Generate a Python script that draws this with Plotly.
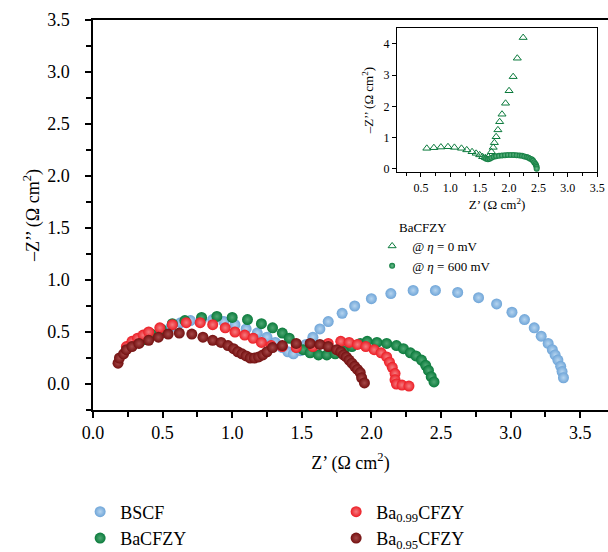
import plotly.graph_objects as go

# ---------------- data ----------------
bscf_x = [0.50, 0.56, 0.63, 0.70, 0.78, 0.86, 0.94, 1.02, 1.10, 1.18, 1.25, 1.31, 1.36, 1.40, 1.44,
          1.49, 1.53, 1.58, 1.63, 1.69, 1.79, 1.88, 2.00, 2.14, 2.30, 2.46, 2.62, 2.77, 2.90, 3.01,
          3.10, 3.17, 3.22, 3.27, 3.30, 3.32, 3.34, 3.36, 3.37, 3.38]
bscf_y = [0.50, 0.55, 0.59, 0.61, 0.62, 0.62, 0.60, 0.57, 0.53, 0.49, 0.45, 0.40, 0.35, 0.31, 0.29,
          0.32, 0.38, 0.45, 0.53, 0.60, 0.68, 0.75, 0.82, 0.87, 0.90, 0.90, 0.88, 0.83, 0.77, 0.69,
          0.62, 0.54, 0.46, 0.39, 0.33, 0.28, 0.23, 0.17, 0.12, 0.06]

bacfzy_x = [0.35, 0.42, 0.49, 0.57, 0.66, 0.78, 0.89, 1.00, 1.11, 1.21, 1.29, 1.36, 1.41, 1.46, 1.51,
            1.56, 1.62, 1.68, 1.74, 1.80, 1.86, 1.92, 1.97, 2.04, 2.11, 2.18, 2.23, 2.28, 2.32, 2.36,
            2.39, 2.41, 2.43, 2.45]
bacfzy_y = [0.42, 0.48, 0.53, 0.58, 0.61, 0.64, 0.65, 0.64, 0.62, 0.58, 0.54, 0.49, 0.44, 0.38, 0.33,
            0.30, 0.28, 0.28, 0.29, 0.32, 0.36, 0.39, 0.41, 0.40, 0.39, 0.37, 0.34, 0.30, 0.27, 0.23,
            0.18, 0.13, 0.07, 0.02]

ba099_x = [0.24, 0.28, 0.32, 0.36, 0.40, 0.48, 0.57, 0.67, 0.77, 0.86, 0.95, 1.02, 1.09, 1.15, 1.21,
           1.28, 1.36, 1.46, 1.58, 1.69, 1.78, 1.84, 1.90, 1.96, 2.02, 2.07, 2.11, 2.13, 2.15, 2.17,
           2.17, 2.18, 2.22, 2.27]
ba099_y = [0.36, 0.41, 0.44, 0.47, 0.50, 0.54, 0.57, 0.59, 0.59, 0.57, 0.54, 0.50, 0.47, 0.44, 0.40,
           0.37, 0.36, 0.35, 0.36, 0.39, 0.41, 0.40, 0.38, 0.36, 0.33, 0.30, 0.26, 0.21, 0.16, 0.10,
           0.04, 0.00, -0.01, -0.02]

ba095_x = [0.18, 0.19, 0.22, 0.24, 0.28, 0.33, 0.40, 0.47, 0.54, 0.62, 0.71, 0.79, 0.86, 0.92, 0.97,
           1.01, 1.04, 1.07, 1.10, 1.13, 1.16, 1.19, 1.22, 1.25, 1.29, 1.36, 1.46, 1.56, 1.63, 1.69,
           1.75, 1.78, 1.80, 1.82, 1.84, 1.86, 1.88, 1.90, 1.92, 1.93, 1.95]
ba095_y = [0.20, 0.25, 0.29, 0.33, 0.36, 0.39, 0.42, 0.45, 0.48, 0.49, 0.48, 0.45, 0.42, 0.40, 0.37,
           0.34, 0.31, 0.29, 0.27, 0.25, 0.25, 0.26, 0.28, 0.31, 0.35, 0.37, 0.39, 0.39, 0.38, 0.36,
           0.33, 0.31, 0.28, 0.26, 0.23, 0.20, 0.17, 0.14, 0.11, 0.06, 0.01]

# inset: BaCFZY at two overpotentials
eta0_x = [0.60, 0.72, 0.84, 0.96, 1.07, 1.19, 1.28, 1.37, 1.44, 1.50, 1.55, 1.60, 1.65, 1.70, 1.73,
          1.75, 1.78, 1.81, 1.84, 1.88, 1.94, 2.00, 2.07, 2.14, 2.24]
eta0_y = [0.66, 0.68, 0.70, 0.71, 0.69, 0.66, 0.61, 0.55, 0.50, 0.45, 0.39, 0.36, 0.39, 0.55, 0.69,
          0.84, 1.03, 1.25, 1.51, 1.75, 2.10, 2.50, 2.95, 3.54, 4.20]
eta600_x = [1.58, 1.61, 1.64, 1.67, 1.70, 1.74, 1.78, 1.83, 1.88, 1.93, 1.98, 2.03, 2.08, 2.13, 2.18,
            2.22, 2.26, 2.30, 2.33, 2.36, 2.39, 2.41, 2.43, 2.45, 2.46, 2.47, 2.47]
eta600_y = [0.36, 0.33, 0.31, 0.33, 0.36, 0.39, 0.41, 0.42, 0.43, 0.44, 0.45, 0.45, 0.45, 0.44, 0.43,
            0.42, 0.40, 0.38, 0.36, 0.33, 0.30, 0.26, 0.21, 0.16, 0.11, 0.06, 0.01]

main_ticks = [0.0, 0.5, 1.0, 1.5, 2.0, 2.5, 3.0, 3.5]
inset_xticks = [0.5, 1.0, 1.5, 2.0, 2.5, 3.0, 3.5]
inset_yticks = [0, 1, 2, 3, 4]

FONT = "Liberation Serif"

fig = go.Figure()

def sphere(name, xs, ys, color, tint, rank):
    fig.add_trace(go.Scatter(
        x=xs, y=ys, mode="markers", name=name, legendrank=rank, legend="legend",
        marker=dict(size=11, color=color, line=dict(width=0),
                    gradient=dict(type="radial", color=tint)),
    ))

sphere("BSCF", bscf_x, bscf_y, "#6FA5D8", "#B5D4EF", 1)
sphere("BaCFZY", bacfzy_x, bacfzy_y, "#0A7A3B", "#4FA874", 3)
sphere("Ba<sub>0.99</sub>CFZY", ba099_x, ba099_y, "#EC1C24", "#F57C80", 2)
sphere("Ba<sub>0.95</sub>CFZY", ba095_x, ba095_y, "#731010", "#A64848", 4)

fig.add_trace(go.Scatter(
    x=eta0_x, y=eta0_y, mode="markers", name="@ <i>η</i> = 0 mV",
    xaxis="x2", yaxis="y2", legend="legend2",
    marker=dict(symbol="triangle-up-open", size=7, color="#0B7A3C", line=dict(width=1)),
))
fig.add_trace(go.Scatter(
    x=eta600_x, y=eta600_y, mode="markers", name="@ <i>η</i> = 600 mV",
    xaxis="x2", yaxis="y2", legend="legend2",
    marker=dict(symbol="circle", size=6, color="#0B7A3C", line=dict(width=0),
                gradient=dict(type="radial", color="#6FBE90")),
))

axis_common = dict(showgrid=False, zeroline=False, showline=True, linecolor="black",
                   ticks="outside", tickcolor="black")

fig.update_layout(
    width=608, height=552,
    margin=dict(l=93, r=0, t=20, b=142, autoexpand=False),
    paper_bgcolor="white", plot_bgcolor="white",
    font=dict(family=FONT, color="black", size=18),
    xaxis=dict(**axis_common, range=[0, 3.7], tickvals=main_ticks, tickformat=".1f",
               linewidth=1.5, mirror=True, ticklen=6, tickwidth=1.5,
               minor=dict(dtick=0.25, ticks="outside", ticklen=5, tickcolor="black"),
               tickfont=dict(size=18),
               title=dict(text="Z’ (Ω cm<sup>2</sup>)", font=dict(size=18), standoff=14)),
    yaxis=dict(**axis_common, range=[-0.25, 3.5], tickvals=main_ticks, tickformat=".1f",
               linewidth=1.5, ticklen=6, tickwidth=1.5, ticklabelstandoff=12,
               minor=dict(dtick=0.25, ticks="outside", ticklen=5, tickcolor="black"),
               tickfont=dict(size=18),
               title=dict(text="–Z’’ (Ω cm<sup>2</sup>)", font=dict(size=18), standoff=3)),
    xaxis2=dict(**axis_common, domain=[0.590, 0.979], anchor="y2", range=[0.09, 3.5],
                tickvals=inset_xticks, tickformat=".1f", linewidth=1, mirror=True, ticklen=4,
                minor=dict(dtick=0.25, ticks="outside", ticklen=3, tickcolor="black"),
                tickfont=dict(size=12),
                title=dict(text="Z’ (Ω cm<sup>2</sup>)", font=dict(size=13), standoff=6)),
    yaxis2=dict(**axis_common, domain=[0.610, 0.979], anchor="x2", range=[-0.1, 4.5],
                tickvals=inset_yticks, linewidth=1, mirror=True, ticklen=4,
                tickfont=dict(size=12),
                title=dict(text="–Z’’ (Ω cm<sup>2</sup>)", font=dict(size=13), standoff=6)),
    legend=dict(orientation="h", x=-0.025, xanchor="left", y=-0.214, yanchor="top",
                entrywidth=211, entrywidthmode="pixels", font=dict(size=18),
                bgcolor="rgba(0,0,0,0)", itemclick=False, tracegroupgap=0),
    legend2=dict(orientation="v", x=0.542, xanchor="left", y=0.459, yanchor="top",
                 font=dict(size=13), bgcolor="rgba(0,0,0,0)", tracegroupgap=0),
    annotations=[dict(text="BaCFZY", xref="paper", yref="paper", x=0.590, y=0.467,
                      xanchor="left", yanchor="middle", showarrow=False,
                      font=dict(size=13, family=FONT, color="black"))],
)

fig.write_html("out.html", config={"displayModeBar": False},
               post_script="document.body.style.margin='0';document.body.style.overflow='hidden';")
